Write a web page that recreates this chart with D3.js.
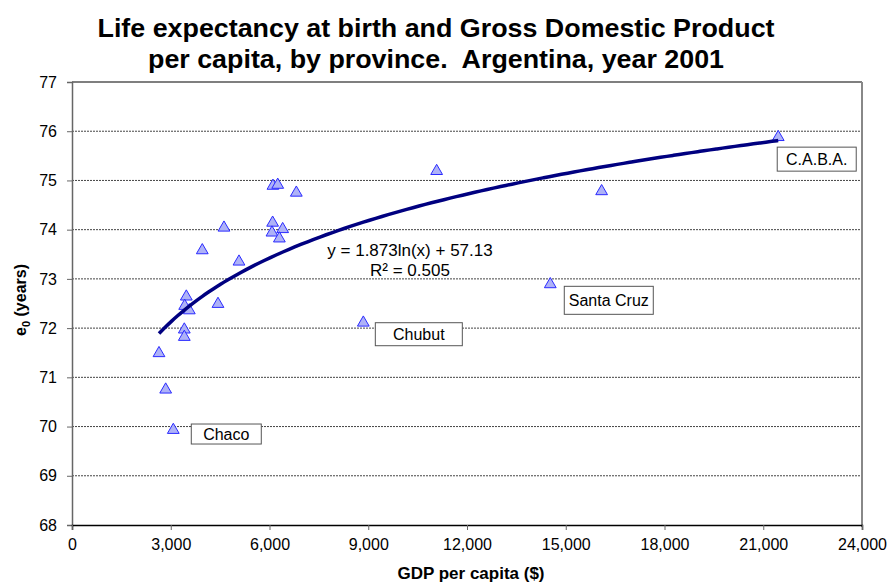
<!DOCTYPE html>
<html><head><meta charset="utf-8">
<script src="https://cdn.jsdelivr.net/npm/d3@7"></script>
<style>body{margin:0;background:#fff;} svg{display:block;font-family:"Liberation Sans",Arial,sans-serif;} text{white-space:pre;}</style>
</head><body>
<svg id="c" width="890" height="583"></svg>
<script>
const gdp = [6105,6250,6815,6095,6075,6400,6300,4617,3958,5073,3473,3423,3564,4435,3412,3412,2643,2846,3077,11078,16090,14530,8850,21455];
const e0  = [74.91,74.93,74.77,74.16,73.96,74.03,73.84,74.06,73.60,73.37,72.66,72.47,72.38,72.51,71.99,71.84,71.51,70.77,69.95,75.21,74.80,72.91,72.13,75.90];
const labelNames = ["Chaco","Chubut","Santa Cruz","C.A.B.A."];
const labelPoint = [18,22,21,23];
const xTicks = [0,3000,6000,9000,12000,15000,18000,21000,24000];
const yTicks = [68,69,70,71,72,73,74,75,76,77];
const trendA = 1.873, trendB = 57.13;
const titleLines = ["Life expectancy at birth and Gross Domestic Product","per capita, by province.  Argentina, year 2001"];

const svg = d3.select("#c");
const L=72, R=862, T=82, B=525;
const x = d3.scaleLinear().domain([0,24000]).range([L,R]);
const y = d3.scaleLinear().domain([68,77]).range([B,T]);

// title
const titleW = [677,576];
svg.append("g").selectAll("text").data(titleLines).join("text")
  .attr("x",436).attr("y",(d,i)=>37+i*31).attr("text-anchor","middle")
  .attr("font-size",25).attr("font-weight","bold").attr("fill","#000")
  .attr("textLength",(d,i)=>titleW[i]).attr("lengthAdjust","spacingAndGlyphs").text(d=>d);

// gridlines
svg.append("g").selectAll("line").data(yTicks.filter(v=>v>68&&v<77)).join("line")
  .attr("x1",L).attr("x2",R).attr("y1",d=>y(d)).attr("y2",d=>y(d))
  .attr("stroke","#444").attr("stroke-width",1).attr("stroke-dasharray","2,1");
// top border
svg.append("line").attr("x1",L).attr("x2",R).attr("y1",T).attr("y2",T).attr("stroke","#000").attr("stroke-width",1.2);
// right border
svg.append("line").attr("x1",R).attr("x2",R).attr("y1",T).attr("y2",B+2).attr("stroke","#888").attr("stroke-width",2);

// axes
const yAxis = d3.axisLeft(y).tickValues(yTicks).tickSize(5).tickFormat(d3.format("d"));
const gy = svg.append("g").attr("transform",`translate(${L},0)`).call(yAxis);
gy.select(".domain").attr("stroke","#666").attr("stroke-width",1.5);
gy.selectAll(".tick line").attr("stroke","#666");
gy.selectAll(".tick text").attr("font-size",16).attr("fill","#000").attr("font-family","Liberation Sans, Arial, sans-serif").attr("x",-15);

const xAxis = d3.axisBottom(x).tickValues(xTicks).tickSize(5).tickFormat(d3.format(","));
const gx = svg.append("g").attr("transform",`translate(0,${B})`).call(xAxis);
gx.select(".domain").attr("stroke","#000").attr("stroke-width",1.5);
gx.selectAll(".tick line").attr("stroke","#666");
gx.selectAll(".tick text").attr("font-size",16).attr("fill","#000").attr("font-family","Liberation Sans, Arial, sans-serif").attr("y",14);

// axis titles
svg.append("text").attr("x",471).attr("y",579).attr("text-anchor","middle")
  .attr("font-size",17).attr("font-weight","bold").text("GDP per capita ($)");
const yl = svg.append("text").attr("transform","translate(26,300) rotate(-90)").attr("text-anchor","middle")
  .attr("font-size",16).attr("font-weight","bold");
yl.append("tspan").text("e");
yl.append("tspan").attr("font-size",11).attr("dy",4).text("0");
yl.append("tspan").attr("dy",-4).text(" (years)");

// points
const tri = d3.symbol().type(d3.symbolTriangle).size(60);
svg.append("g").selectAll("path").data(gdp.map((g,i)=>[g,e0[i]])).join("path")
  .attr("d",tri).attr("transform",d=>`translate(${x(d[0])},${y(d[1])+1})`)
  .attr("fill","#aeb2f7").attr("stroke","#2b2bff").attr("stroke-width",1);

// trend line
const xmin = d3.min(gdp), xmax = d3.max(gdp);
const tdata = d3.range(0,101).map(i=>{const g = xmin+(xmax-xmin)*i/100; return [g, trendA*Math.log(g)+trendB];});
svg.append("path").datum(tdata)
  .attr("d",d3.line().x(d=>x(d[0])).y(d=>y(d[1])).curve(d3.curveBasis))
  .attr("fill","none").attr("stroke","#000080").attr("stroke-width",3.5);

// equation
svg.append("text").attr("x",410).attr("y",256).attr("text-anchor","middle").attr("font-size",17).text(`y = ${trendA}ln(x) + ${trendB}`);
svg.append("text").attr("x",410).attr("y",276).attr("text-anchor","middle").attr("font-size",17).text("R² = 0.505");

// labels
const offs = [[18,-5,70,20],[12,1,87,23],[14,3,89,28],[-1,11,79,24]];
const lg = svg.append("g");
labelNames.forEach((n,k)=>{
  const i = labelPoint[k];
  const px = x(gdp[i]), py = y(e0[i]);
  const [dx,dy,w,h] = offs[k];
  lg.append("rect").attr("x",px+dx).attr("y",py+dy).attr("width",w).attr("height",h)
    .attr("fill","#fff").attr("stroke","#555").attr("stroke-width",1);
  lg.append("text").attr("x",px+dx+w/2).attr("y",py+dy+h/2+6).attr("text-anchor","middle")
    .attr("font-size",16).text(n);
});
</script>
</body></html>
